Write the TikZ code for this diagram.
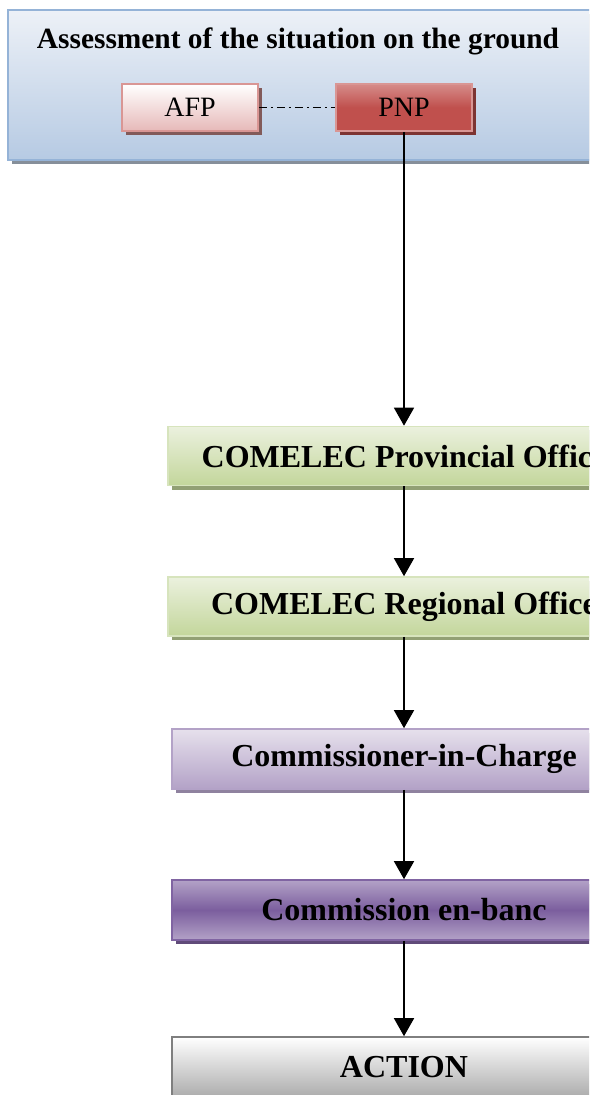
\documentclass[tikz,border=0pt]{standalone}
\usepackage{fontspec}
\setmainfont{Liberation Serif}
\usetikzlibrary{arrows.meta,shadows}

\definecolor{blueedge}{HTML}{95B3D7}
\definecolor{bluetop}{HTML}{EDF1F7}
\definecolor{bluebot}{HTML}{B6CAE3}
\definecolor{pinkedge}{HTML}{D99694}
\definecolor{pinkbot}{HTML}{E6B9B8}
\definecolor{redfill}{HTML}{C0504D}
\definecolor{redtop}{HTML}{D68C8A}
\definecolor{greenedge}{HTML}{D7E4BD}
\definecolor{greentop}{HTML}{EBF1DE}
\definecolor{greenbot}{HTML}{C3D69B}
\definecolor{lilacedge}{HTML}{B3A2C7}
\definecolor{lilactop}{HTML}{E6E0EC}
\definecolor{purpleedge}{HTML}{8064A2}
\definecolor{purplemid}{HTML}{7B5E9E}
\definecolor{grayedge}{HTML}{7F7F7F}

\begin{document}
\begin{tikzpicture}[x=0.5pt,y=-0.5pt,>={Triangle[width=10pt,length=9pt]},
    box/.style={rectangle,draw,line width=0.8pt,inner sep=0pt,
      font=\bfseries\fontsize{16}{19}\selectfont},
    small box/.style={box,minimum width=68pt,minimum height=23.5pt,
      font=\fontsize{14}{17}\selectfont},
    wide box/.style={box,minimum width=236pt,minimum height=29.5pt},
    narrow box/.style={box,minimum width=232pt,minimum height=30pt},
    shade/.style={general shadow={fill=#1,shadow xshift=2pt,shadow yshift=-2pt}},
    link/.style={->,line width=0.75pt}]

\useasboundingbox (0,0) rectangle (589,1095);
\clip (0,0) rectangle (589,1095);

% assessment panel
\node[box,draw=blueedge,top color=bluetop,bottom color=bluebot,shade=gray!70!blueedge,
  minimum width=296pt,minimum height=75pt] (ground) at (304,85) {};
\node[font=\bfseries\fontsize{14.7}{17}\selectfont] (title) at (298,41)
  {Assessment of the situation on the ground};
\node[small box,draw=pinkedge,top color=white,bottom color=pinkbot,
  shade=pinkedge!60!black] (afp) at (190,107.5) {AFP};
\node[small box,draw=pinkedge,top color=redtop,bottom color=redfill,middle color=redfill,
  shade=redfill!65!black] (pnp) at (404,107.5) {PNP};

% chain of offices
\node[wide box,draw=greenedge,top color=greentop,bottom color=greenbot,
  shade=greenbot!75!black] (prov) at (404,456) {COMELEC Provincial Office};
\node[wide box,draw=greenedge,top color=greentop,bottom color=greenbot,
  shade=greenbot!75!black] (reg) at (404,606.5) {COMELEC Regional Office};
\node[narrow box,draw=lilacedge,top color=lilactop,bottom color=lilacedge,
  shade=lilacedge!80!black] (comm) at (404,759) {Commissioner-in-Charge};
\node[narrow box,draw=purpleedge,top color=lilacedge,bottom color=lilacedge,middle color=purplemid,
  shade=purpleedge!75!black] (banc) at (404,910) {Commission en-banc};
\node[narrow box,draw=grayedge,top color=white,bottom color=gray!65] (action) at (404,1067) {ACTION};

\draw[line width=0.5pt,dash pattern=on 4pt off 2pt on 1pt off 2pt] (afp) -- (pnp);
\draw[link] (pnp) -- (prov);
\draw[link] (prov) -- (reg);
\draw[link] (reg) -- (comm);
\draw[link] (comm) -- (banc);
\draw[link] (banc) -- (action);

\end{tikzpicture}
\end{document}
